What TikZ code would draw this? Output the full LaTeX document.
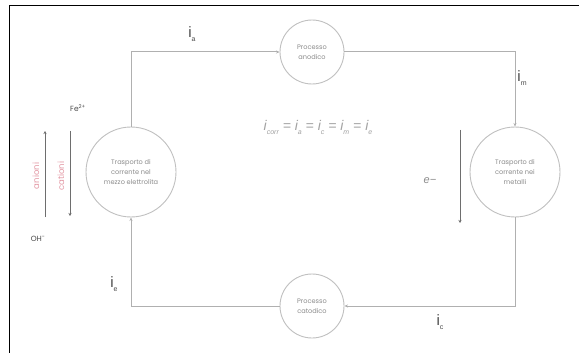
\documentclass[tikz,border=0pt]{standalone}
\usepackage{fontspec}
\setmainfont{Poppins}
\newfontfamily\lsans{Liberation Sans}
\usetikzlibrary{arrows.meta}
\definecolor{ln}{HTML}{B0B0B0}
\definecolor{circ}{HTML}{C0C0C0}
\definecolor{txt}{HTML}{8C8C8C}
\definecolor{lab}{HTML}{4A4A4A}
\definecolor{ion}{HTML}{E49AA6}
\newcommand{\lowsub}[1]{\raisebox{-4pt}{\fontsize{7}{7}\selectfont #1}}
\begin{document}
\begin{tikzpicture}[x=1pt,y=-1pt,
  proc/.style={circle, draw=circ, line width=0.9pt, fill=white, align=center,
    font=\fontsize{6.6}{9.8}\selectfont, text=txt, inner sep=0pt},
  conn/.style={draw=ln, line width=1pt, -{Stealth[length=3.5pt,width=3pt]}},
  ionarrow/.style={draw=lab!80, line width=0.7pt, -{Stealth[length=3pt,width=3pt]}},
  curlab/.style={text=lab, font=\lsans\fontsize{15}{15}\selectfont, inner sep=0pt},
  small/.style={text=lab, font=\fontsize{7.5}{8}\selectfont, inner sep=0pt}]
\useasboundingbox (0,0) rectangle (579,353);
\fill[white] (0,0) rectangle (579,353);
\draw[black, line width=1pt] (9,353) -- (9,6) -- (579,6);

\node[proc, minimum size=64] (an) at (312,52) {Processo\\anodico};
\node[proc, minimum size=90] (el) at (131,172) {Trasporto di\\corrente nel\\mezzo elettrolita};
\node[proc, minimum size=90] (me) at (515,172) {Trasporto di\\corrente nei\\metalli};
\node[proc, minimum size=64] (ca) at (312,306) {Processo\\catodico};

\draw[conn] (el.north) |- (an.west);
\draw[conn] (an.east) -| (me.north);
\draw[conn] (me.south) |- (ca.east);
\draw[conn] (ca.west) -| (el.south);

\node[curlab] (ia) at (192,34) {i\lowsub{a}};
\node[curlab] (im) at (522,78) {i\lowsub{m}};
\node[curlab] (ic) at (440,322) {i\lowsub{c}};
\node[curlab] (ie) at (114,284) {i\lowsub{e}};

\node[text=txt!80, font=\lsans\itshape\fontsize{14}{14}\selectfont] (eq) at (318,127)
  {i\lowsub{corr} = i\lowsub{a} = i\lowsub{c} = i\lowsub{m} = i\lowsub{e}};

\coordinate (a1) at (45,217);
\coordinate (a2) at (45,131);
\coordinate (c1) at (70,131);
\coordinate (c2) at (70,216);
\draw[ionarrow] (a1) -- (a2);
\draw[ionarrow] (c1) -- (c2);
\node[rotate=90, text=ion, font=\fontsize{8.5}{9}\selectfont] (anio) at (36,176) {anioni};
\node[rotate=90, text=ion, font=\fontsize{8.5}{9}\selectfont] (catio) at (61,176) {cationi};
\node[small] (fe) at (78,108) {Fe\textsuperscript{2+}};
\node[small] (oh) at (38,239) {OH\textsuperscript{−}};

\coordinate (e1) at (460,130);
\coordinate (e2) at (460,223);
\draw[ionarrow] (e1) -- (e2);
\node[text=txt, font=\lsans\itshape\fontsize{11}{11}\selectfont] (el-) at (430,181) {e−};
\end{tikzpicture}
\end{document}
